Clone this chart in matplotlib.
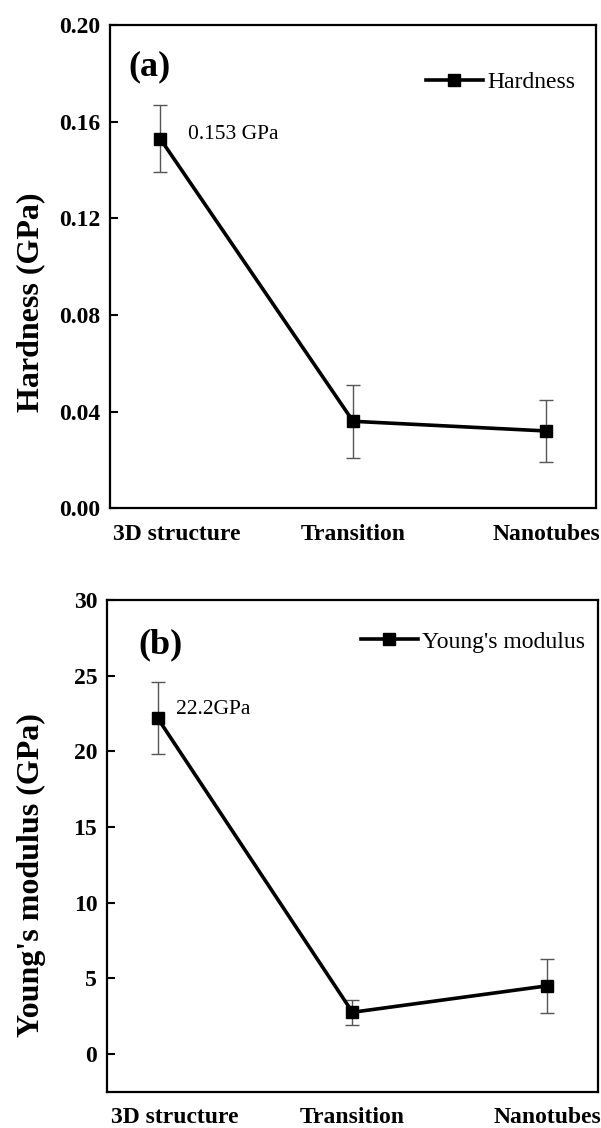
import matplotlib
matplotlib.use('Agg')
import matplotlib.pyplot as plt
import matplotlib.transforms as mtransforms

# --- DATA ---
categories = ['3D structure', 'Transition', 'Nanotubes']
hardness = [0.153, 0.036, 0.032]
hardness_err = [0.014, 0.015, 0.013]
modulus = [22.2, 2.75, 4.5]
modulus_err = [2.4, 0.83, 1.78]
hardness_yticks = [0.00, 0.04, 0.08, 0.12, 0.16, 0.20]
modulus_yticks = [0, 5, 10, 15, 20, 25, 30]

plt.rcParams['font.family'] = ['Liberation Serif', 'DejaVu Serif']


def draw_panel(fig, ax, values, errors, label, ylabel, tag, note, note_offset,
               ylim, yticks, yfmt, legend_anchor, tag_pos, ylabel_xy):
    x = list(range(1, len(categories) + 1))
    ax.errorbar(x, values, yerr=errors, fmt='none', ecolor='#555555',
                elinewidth=1.0, capsize=5, capthick=1.0, zorder=2)
    ax.plot(x, values, color='black', lw=2.6, marker='s', ms=8,
            label=label, zorder=3)

    ax.set_xlim(0.74, 3.26)
    ax.set_ylim(*ylim)
    ax.set_yticks(yticks)
    ax.set_yticklabels([yfmt.format(v) for v in yticks])
    ax.set_xticks(x)
    ax.set_xticklabels(categories)
    ax.tick_params(axis='y', direction='in', length=6, width=1.5, pad=7,
                   labelsize=17)
    ax.tick_params(axis='x', length=0, pad=11, labelsize=17)
    for t in ax.get_xticklabels() + ax.get_yticklabels():
        t.set_fontweight('bold')
    # first category label sits a bit to the right, inside the frame
    first = ax.get_xticklabels()[0]
    first.set_transform(first.get_transform() +
                        mtransforms.ScaledTranslation(0.17, 0, fig.dpi_scale_trans))
    for s in ax.spines.values():
        s.set_linewidth(1.6)

    ax.set_ylabel(ylabel, fontsize=23, fontweight='bold')
    ax.yaxis.set_label_coords(*ylabel_xy)
    ax.text(tag_pos[0], tag_pos[1], tag, transform=ax.transAxes,
            fontsize=26, fontweight='bold', ha='left', va='center')
    ax.annotate(note, xy=(x[0], values[0]), xytext=note_offset,
                textcoords='offset points', fontsize=15.5,
                ha='left', va='center')
    ax.legend(loc='center right', bbox_to_anchor=legend_anchor,
              frameon=False, fontsize=17, handlelength=2.4,
              handletextpad=0.2, borderpad=0, borderaxespad=0)


fig = plt.figure(figsize=(6.01, 11.28), dpi=100)
ax1 = fig.add_axes([0.183, 0.5494, 0.809, 0.4284])
ax2 = fig.add_axes([0.178, 0.0322, 0.817, 0.4358])

draw_panel(fig, ax1, hardness, hardness_err, 'Hardness', 'Hardness (GPa)', '(a)',
           '0.153 GPa', (20, 3), (0, 0.2), hardness_yticks, '{:.2f}',
           (0.957, 0.882), (0.037, 0.913), (-0.134, 0.427))
draw_panel(fig, ax2, modulus, modulus_err, "Young's modulus",
           "Young's modulus (GPa)", '(b)', '22.2GPa', (13, 6),
           (-2.5, 30), modulus_yticks, '{:d}', (0.974, 0.915), (0.063, 0.908),
           (-0.124, 0.44))

fig.savefig('out.png', dpi=100)
